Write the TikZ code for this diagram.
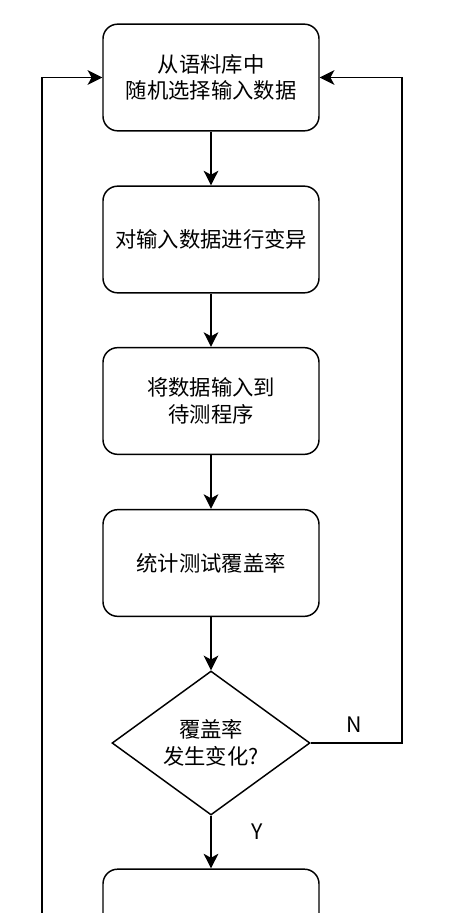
\documentclass[tikz,border=0pt]{standalone}
\usepackage{fontspec}
\setmainfont{Noto Sans CJK SC}
\usetikzlibrary{arrows.meta,shapes.geometric}
\tikzset{
  stepbox/.style={draw, line width=1.1pt, rounded corners=11pt,
    minimum width=162pt, minimum height=80pt, align=center,
    font=\fontsize{16}{20}\selectfont},
  check/.style={draw, diamond, aspect=1.4, line width=1.1pt,
    minimum width=148.5pt, minimum height=108pt, inner sep=0pt,
    align=center, font=\fontsize{16}{20}\selectfont},
  flow/.style={-{Stealth[length=11pt,width=11pt,inset=3pt]}, line width=1.1pt},
  lbl/.style={font=\fontsize{16}{20}\selectfont}
}
\begin{document}
\begin{tikzpicture}[x=0.75pt, y=-0.75pt]
         \useasboundingbox (0, 0) rectangle (456, 913);
         \clip (0, 0) rectangle (456, 913);
         \node[stepbox] (select) at (211, 77.5) {从语料库中\\随机选择输入数据};
         \node[stepbox] (mutate) at (211, 239.5) {对输入数据进行变异};
         \node[stepbox] (run) at (211, 401) {将数据输入到\\待测程序};
         \node[stepbox] (cover) at (211, 563) {统计测试覆盖率};
         \node[check] (changed) at (211, 743) {覆盖率\\发生变化?};
         \node[stepbox] (next) at (211, 922.5) {};
         \coordinate (rturn) at (402, 743);
         \coordinate (lstart) at (42, 980);
         \draw[flow] (select) -- (mutate);
         \draw[flow] (mutate) -- (run);
         \draw[flow] (run) -- (cover);
         \draw[flow] (cover) -- (changed);
         \draw[flow] (changed) -- (next);
         \draw[flow] (changed.east) -- (rturn) |- (select.east);
         \draw[flow] (lstart) |- (select.west);
         \node[lbl] (nlabel) at (354, 725) {N};
         \node[lbl] (ylabel) at (257, 832) {Y};
\end{tikzpicture}
\end{document}
